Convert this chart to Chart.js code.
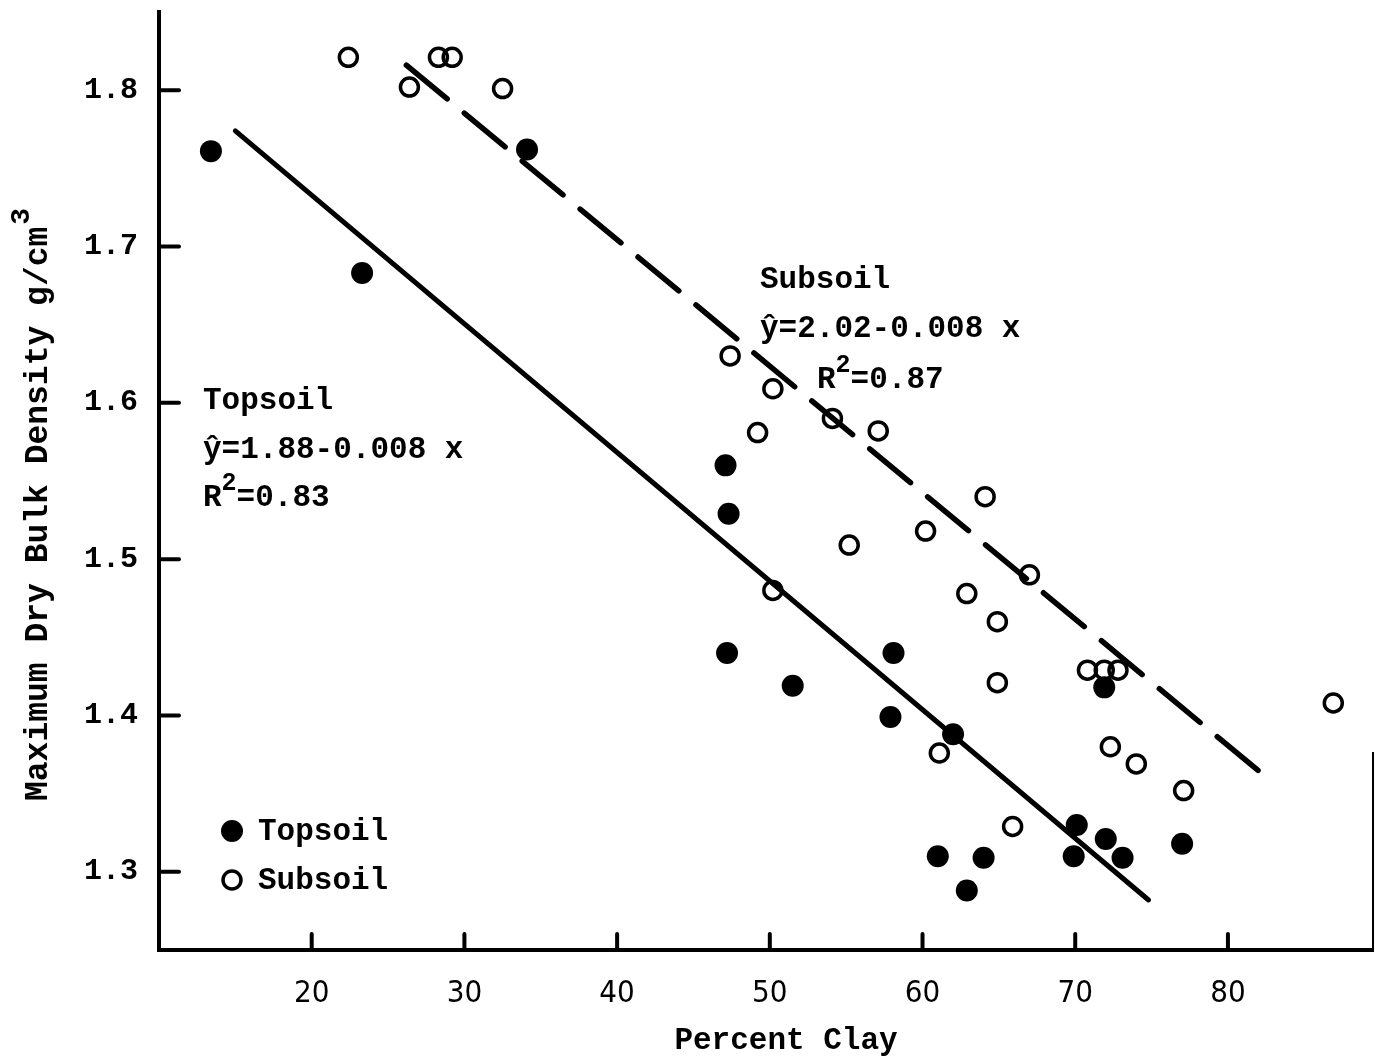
<!DOCTYPE html>
<html>
<head>
<meta charset="utf-8">
<script src="https://cdn.jsdelivr.net/npm/chart.js@4.4.1/dist/chart.umd.min.js"></script>
<style>
  html, body { margin: 0; padding: 0; background: #fff; }
  canvas { display: block; }
</style>
</head>
<body>
<canvas id="c" width="1375" height="1062"></canvas>
<script>
// ---- data ----
const xTicks = [20, 30, 40, 50, 60, 70, 80];
const yTicks = [1.3, 1.4, 1.5, 1.6, 1.7, 1.8];
const yTickLabels = ['1.3', '1.4', '1.5', '1.6', '1.7', '1.8'];

const topsoilX = [13.4, 23.3, 34.1, 47.1, 47.3, 47.2, 51.5, 58.1, 57.9, 62.0, 61.0, 64.0, 62.9, 70.1, 69.9, 72.0, 73.1, 77.0, 71.9];
const topsoilY = [1.761, 1.683, 1.762, 1.560, 1.529, 1.440, 1.419, 1.440, 1.399, 1.388, 1.310, 1.309, 1.288, 1.330, 1.310, 1.321, 1.309, 1.318, 1.418];

const subsoilX = [22.4, 26.4, 28.3, 29.2, 32.5, 47.4, 50.2, 49.2, 54.1, 57.1, 55.2, 60.2, 64.1, 67.0, 62.9, 50.2, 64.9, 64.9, 70.8, 71.9, 72.8, 61.1, 72.3, 74.0, 65.9, 77.1, 86.9];
const subsoilY = [1.821, 1.802, 1.821, 1.821, 1.801, 1.630, 1.609, 1.581, 1.590, 1.582, 1.509, 1.518, 1.540, 1.490, 1.478, 1.480, 1.460, 1.421, 1.429, 1.429, 1.429, 1.376, 1.380, 1.369, 1.329, 1.352, 1.408];

const topFitX = [15.0, 74.8];
const topFitY = [1.774, 1.282];
const subFitX = [26.2, 82.2];
const subFitY = [1.816, 1.363];

const xTitle = 'Percent Clay';
const yTitle = 'Maximum Dry Bulk Density g/cm';
const yTitleSup = '3';
const topLabel = ['Topsoil', 'ŷ=1.88-0.008 x', '=0.83'];
const subLabel = ['Subsoil', 'ŷ=2.02-0.008 x', '=0.87'];
const legendNames = ['Topsoil', 'Subsoil'];

// ---- chart ----
const toPts = (xs, ys) => xs.map((x, i) => ({ x: x, y: ys[i] }));
const MONO = '"Liberation Mono", "DejaVu Sans Mono", monospace';
Chart.defaults.font.family = MONO;
Chart.defaults.color = '#000';

function superText(ctx, x, y, parts, size, supSize, rise) {
  let cx = x;
  parts.forEach(p => {
    ctx.font = 'bold ' + (p.sup ? supSize : size) + 'px ' + MONO;
    ctx.fillText(p.t, cx, p.sup ? y - rise : y);
    cx += ctx.measureText(p.t).width;
  });
}

function zeroPad(s) { s.paddingTop = 0; s.paddingBottom = 0; s.paddingLeft = 0; s.paddingRight = 0; }

const decor = {
  id: 'decor',
  afterDraw(chart) {
    const ctx = chart.ctx;
    const xs = chart.scales.x, ys = chart.scales.y;
    const ca = chart.chartArea;
    ctx.save();
    ctx.strokeStyle = '#000';
    ctx.fillStyle = '#000';
    ctx.lineWidth = 4;
    ctx.lineCap = 'round';
    // inward tick marks
    xTicks.forEach(v => {
      const px = xs.getPixelForValue(v);
      ctx.beginPath(); ctx.moveTo(px, ca.bottom); ctx.lineTo(px, ca.bottom - 16); ctx.stroke();
    });
    yTicks.forEach(v => {
      const py = ys.getPixelForValue(v);
      ctx.beginPath(); ctx.moveTo(ca.left, py); ctx.lineTo(ca.left + 20, py); ctx.stroke();
    });
    // right frame edge fragment
    ctx.lineWidth = 2;
    ctx.lineCap = 'butt';
    ctx.beginPath(); ctx.moveTo(1373, 752); ctx.lineTo(1373, ca.bottom); ctx.stroke();

    ctx.textBaseline = 'middle';
    ctx.textAlign = 'left';
    const F = 31;
    // Topsoil equation
    ctx.font = 'bold ' + F + 'px ' + MONO;
    ctx.fillText(topLabel[0], 203, 401);
    ctx.fillText(topLabel[1], 203, 450);
    superText(ctx, 203, 498, [{ t: 'R' }, { t: '2', sup: true }, { t: topLabel[2] }], F, 25, 14);
    // Subsoil equation
    ctx.font = 'bold ' + F + 'px ' + MONO;
    ctx.fillText(subLabel[0], 760, 280);
    ctx.fillText(subLabel[1], 760, 329);
    superText(ctx, 817, 380, [{ t: 'R' }, { t: '2', sup: true }, { t: subLabel[2] }], F, 25, 14);

    // legend
    ctx.beginPath(); ctx.arc(232, 831, 11, 0, Math.PI * 2); ctx.fill();
    ctx.lineWidth = 3.5;
    ctx.beginPath(); ctx.arc(232, 880, 9, 0, Math.PI * 2); ctx.stroke();
    ctx.font = 'bold ' + F + 'px ' + MONO;
    ctx.fillText(legendNames[0], 258, 832);
    ctx.fillText(legendNames[1], 258, 881);

    // axis titles
    ctx.textAlign = 'center';
    ctx.font = 'bold ' + F + 'px ' + MONO;
    ctx.fillText(xTitle, 786, 1041);

    ctx.save();
    ctx.translate(39, 801);
    ctx.rotate(-Math.PI / 2);
    ctx.textAlign = 'left';
    ctx.font = 'bold 33px ' + MONO;
    ctx.fillText(yTitle, 0, 0);
    const w = ctx.measureText(yTitle).width;
    ctx.font = 'bold 28px ' + MONO;
    ctx.fillText(yTitleSup, w + 2, -17);
    ctx.restore();

    ctx.restore();
  }
};

new Chart(document.getElementById('c'), {
  type: 'scatter',
  data: {
    datasets: [
      {
        label: 'Topsoil', data: toPts(topsoilX, topsoilY),
        pointRadius: 11, pointHoverRadius: 11, pointBackgroundColor: '#000', pointBorderWidth: 0, showLine: false
      },
      {
        label: 'Subsoil', data: toPts(subsoilX, subsoilY),
        pointRadius: 9, pointHoverRadius: 9, pointBackgroundColor: 'rgba(0,0,0,0)',
        pointBorderColor: '#000', pointBorderWidth: 3.5, showLine: false
      },
      {
        label: 'Topsoil fit', type: 'line', data: toPts(topFitX, topFitY),
        borderColor: '#000', borderWidth: 5, pointRadius: 0, fill: false, borderCapStyle: 'round'
      },
      {
        label: 'Subsoil fit', type: 'line', data: toPts(subFitX, subFitY),
        borderColor: '#000', borderWidth: 5.5, pointRadius: 0, fill: false,
        borderDash: [53, 22.2], borderCapStyle: 'round'
      }
    ]
  },
  options: {
    responsive: false,
    animation: false,
    devicePixelRatio: 1,
    layout: { autoPadding: false, padding: { top: 12, right: 2, left: 0, bottom: 0 } },
    plugins: { legend: { display: false }, tooltip: { enabled: false } },
    scales: {
      x: {
        type: 'linear', min: 10, max: 89.5,
        afterFit(s) { s.height = 112; zeroPad(s); },
        afterBuildTicks(s) { s.ticks = xTicks.map(v => ({ value: v })); },
        grid: { display: false, drawTicks: false },
        border: { display: true, color: '#000', width: 4 },
        ticks: {
          font: { family: '"DejaVu Sans Condensed", "Liberation Sans Narrow", sans-serif', size: 31 },
          color: '#000', padding: 25, maxRotation: 0, autoSkip: false
        }
      },
      y: {
        type: 'linear', min: 1.25, max: 1.85,
        afterFit(s) { s.width = 159; zeroPad(s); },
        afterBuildTicks(s) { s.ticks = yTicks.map(v => ({ value: v })); },
        grid: { display: false, drawTicks: false },
        border: { display: true, color: '#000', width: 4 },
        ticks: {
          font: { family: MONO, size: 30, weight: 'bold' },
          color: '#000', padding: 21, autoSkip: false,
          callback: (v) => { const i = yTicks.findIndex(t => Math.abs(t - v) < 1e-6); return i >= 0 ? yTickLabels[i] : ''; }
        }
      }
    }
  },
  plugins: [decor]
});
</script>
</body>
</html>
